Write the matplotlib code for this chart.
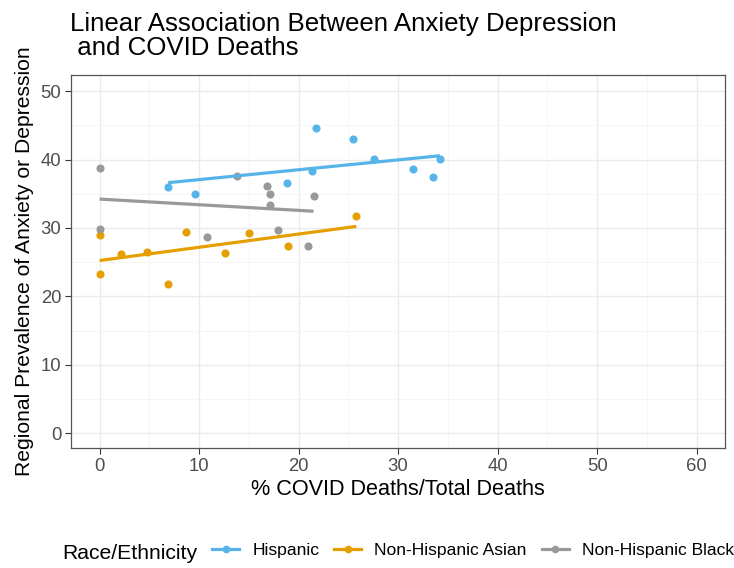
import numpy as np
import matplotlib
matplotlib.use("Agg")
import matplotlib.pyplot as plt
from matplotlib.lines import Line2D

plt.rcParams['font.family'] = ['Liberation Sans', 'DejaVu Sans']

groups = ["Hispanic", "Non-Hispanic Asian", "Non-Hispanic Black"]
colors = ["#56B4E9", "#E69F00", "#999999"]

hisp_x = [6.9, 9.6, 18.8, 21.3, 21.7, 25.5, 27.6, 31.5, 33.5, 34.2]
hisp_y = [36.0, 34.9, 36.5, 38.3, 44.6, 43.0, 40.1, 38.6, 37.4, 40.1]

asian_x = [0.0, 0.0, 2.2, 4.8, 6.9, 8.7, 12.6, 15.0, 18.9, 25.8]
asian_y = [29.0, 23.3, 26.2, 26.5, 21.8, 29.4, 26.3, 29.2, 27.3, 31.8]

black_x = [0.0, 0.0, 10.8, 13.8, 16.8, 17.1, 17.1, 17.9, 20.9, 21.5]
black_y = [38.7, 29.8, 28.7, 37.6, 36.1, 35.0, 33.4, 29.7, 27.4, 34.6]

xticks = [0, 10, 20, 30, 40, 50, 60]
yticks = [0, 10, 20, 30, 40, 50]

W, H = 734, 568
fig = plt.figure(figsize=(W / 100, H / 100), dpi=100)
L, R, T, B = 70.7, 725.5, 74.7, 448.3
ax = fig.add_axes([L / W, (H - B) / H, (R - L) / W, (B - T) / H])

data = [(hisp_x, hisp_y), (asian_x, asian_y), (black_x, black_y)]
for (xs, ys), c in zip(data, colors):
    xs = np.array(xs); ys = np.array(ys)
    ax.scatter(xs, ys, s=34, color=c, zorder=3, linewidths=0)
    b, a = np.polyfit(xs, ys, 1)
    xl = np.array([xs.min(), xs.max()])
    ax.plot(xl, a + b * xl, color=c, lw=2.3, zorder=4, solid_capstyle='butt')

ax.set_xlim(-2.9, 62.9)
ax.set_ylim(-2.2, 52.4)
ax.set_xticks(xticks)
ax.set_yticks(yticks)
ax.set_xticks([5, 15, 25, 35, 45, 55], minor=True)
ax.set_yticks([5, 15, 25, 35, 45], minor=True)
ax.grid(True, which='major', color='#EBEBEB', lw=1.0, zorder=0)
ax.grid(True, which='minor', color='#F4F4F4', lw=0.6, zorder=0)
ax.set_axisbelow(True)
ax.tick_params(which='minor', length=0)
ax.tick_params(which='major', length=4.3, width=0.8, color='#333333',
               labelcolor='#4D4D4D', labelsize=13.3, pad=2.5)
for sp in ax.spines.values():
    sp.set_color('#555555')
    sp.set_linewidth(0.9)

ax.set_xlabel("% COVID Deaths/Total Deaths", fontsize=15.6, labelpad=3)
ax.set_ylabel("Regional Prevalence of Anxiety or Depression", fontsize=15.2, labelpad=5)

fig.text(70 / W, 1 - 31 / H, "Linear Association Between Anxiety Depression",
         fontsize=18.6, va='baseline', ha='left')
fig.text(70 / W, 1 - 55 / H, " and COVID Deaths",
         fontsize=18.6, va='baseline', ha='left')

fig.text(62 / W, 1 - 559 / H, "Race/Ethnicity", fontsize=15.2, va='baseline', ha='left')
handles = [Line2D([0], [0], color=c, lw=2.3, marker='o', markersize=5.5, markeredgewidth=0)
           for c in colors]
leg = fig.legend(handles, groups, loc='center left', bbox_to_anchor=(212 / W, 1 - 550 / H),
                 ncol=3, frameon=False, fontsize=12.6, handlelength=1.55, handletextpad=0.75,
                 columnspacing=0.85, borderaxespad=0, borderpad=0)

fig.savefig("out.png", dpi=100)
